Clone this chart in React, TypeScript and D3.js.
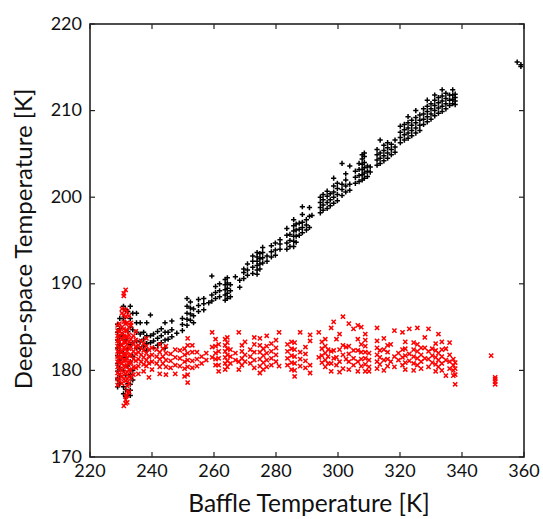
import React from "react";
import * as d3 from "d3";

const xTicks = [220, 240, 260, 280, 300, 320, 340, 360];
const yTicks = [170, 180, 190, 200, 210, 220];

// Deep-space temperature (black "+"), grouped by baffle temperature column
const blackCols: [number, number[]][] = [
  [228.9, [178.1, 179.0, 179.9, 180.8, 181.7, 182.6, 183.5, 184.4, 185.3]],
  [229.6, [178.5, 179.4, 180.3, 181.2, 182.1, 183.0, 183.9, 184.8, 186.0]],
  [230.8, [177.3, 178.1, 180.0, 182.0, 184.0, 186.0, 187.4]],
  [231.5, [177.0, 177.8, 179.4, 181.5, 183.5, 185.5, 187.0]],
  [232.2, [177.2, 178.5, 180.5, 182.5, 184.5, 186.8]],
  [233.0, [177.1, 177.7, 178.4, 179.5, 181.0, 183.0, 185.0, 186.0, 187.4]],
  [233.8, [178.9, 180.0, 181.6, 183.2, 184.7, 186.6]],
  [235.0, [182.6, 183.4, 184.4, 185.5, 186.6]],
  [236.2, [182.5, 183.3, 184.2, 185.5]],
  [237.3, [182.8, 183.6, 184.4]],
  [238.3, [182.3, 183.1, 184.0, 185.5]],
  [239.5, [183.2, 184.0, 186.4]],
  [240.5, [182.6, 183.4, 184.2]],
  [241.8, [182.9, 183.7, 184.5]],
  [243.0, [183.2, 184.0, 184.8]],
  [244.2, [182.6, 183.5, 184.4, 185.5]],
  [245.2, [183.6, 184.4]],
  [246.4, [183.9, 184.7, 185.7]],
  [248.0, [184.3]],
  [249.8, [184.6, 185.3, 186.0]],
  [251.3, [185.2, 185.9, 186.6, 187.4, 188.3]],
  [252.4, [185.8, 186.5, 187.2, 187.9]],
  [253.4, [185.5, 186.3, 187.1]],
  [255.0, [186.8, 187.5, 188.2]],
  [256.7, [187.0, 187.7, 188.3]],
  [258.3, [187.8]],
  [259.3, [188.0, 188.7, 190.9]],
  [260.5, [188.3, 189.0, 189.7]],
  [261.8, [188.5, 189.2, 190.0]],
  [263.6, [188.1, 188.7, 189.3, 189.9, 190.5]],
  [264.3, [188.3, 188.9, 189.5, 190.1, 190.7]],
  [265.3, [188.5, 189.2, 189.9]],
  [266.9, [190.8]],
  [268.3, [189.6, 190.4]],
  [269.6, [190.6, 191.3, 191.7]],
  [270.8, [191.0, 191.6, 192.3]],
  [272.5, [191.2, 191.9, 192.6, 193.2]],
  [273.9, [191.1, 191.6, 192.1, 192.6, 193.1, 193.6]],
  [274.8, [191.7, 192.3, 192.9, 193.5]],
  [275.7, [192.4, 193.0, 193.6, 194.2]],
  [277.1, [192.6, 193.2]],
  [278.5, [193.1, 193.7, 194.4]],
  [279.8, [193.3, 193.9, 194.7]],
  [281.3, [194.0, 194.6, 195.1]],
  [283.5, [194.0, 194.7, 195.6, 196.4]],
  [284.5, [194.3, 195.0, 195.7]],
  [285.7, [194.3, 194.9, 195.5, 196.1, 196.7, 197.4]],
  [286.5, [194.8, 195.5, 196.2, 196.9]],
  [287.5, [195.6, 196.3, 197.0]],
  [288.5, [195.9, 196.5, 197.1, 198.0, 198.9]],
  [289.8, [196.2, 196.8, 197.4]],
  [290.8, [196.5, 197.8, 198.8]],
  [291.6, [197.9]],
  [294.3, [198.2, 198.8, 199.4, 200.0]],
  [295.2, [198.5, 199.1, 199.7, 200.3]],
  [296.5, [198.7, 199.4, 200.1, 200.7]],
  [297.5, [199.0, 199.7, 200.4]],
  [298.6, [199.3, 200.0, 200.6, 201.3, 202.2]],
  [299.8, [199.6, 200.3, 201.0, 201.6]],
  [301.3, [200.2, 200.9, 201.5, 203.9]],
  [302.5, [200.6, 201.3, 202.0, 202.7]],
  [303.8, [200.8, 201.5, 203.6]],
  [305.6, [201.6, 202.3, 203.0]],
  [306.8, [201.8, 202.5, 203.2, 203.9]],
  [307.8, [202.0, 202.6, 203.2, 203.8, 204.4, 204.9]],
  [308.5, [202.2, 202.8, 203.4, 204.0, 204.7, 205.1]],
  [309.5, [202.4, 203.0, 203.6]],
  [310.4, [202.9, 203.5]],
  [312.6, [203.7, 204.3, 204.9, 205.5]],
  [313.6, [203.9, 204.5, 205.1, 206.6]],
  [314.8, [204.2, 204.8, 205.4, 206.0]],
  [316.0, [204.5, 205.1, 205.7, 206.3]],
  [317.2, [204.9, 205.5, 206.1]],
  [318.4, [205.2, 205.8, 206.6]],
  [320.1, [206.3, 206.9, 207.5, 208.2]],
  [321.4, [206.6, 207.2, 207.8, 208.4]],
  [322.6, [206.8, 207.4, 208.0, 208.6, 209.3]],
  [323.8, [207.1, 207.7, 208.3, 208.9]],
  [325.1, [207.4, 208.0, 208.6, 209.2, 210.0]],
  [326.4, [207.7, 208.3, 208.9, 209.5]],
  [327.6, [208.4, 209.0, 209.6, 210.2]],
  [328.8, [208.7, 209.3, 209.9, 210.5, 211.2]],
  [330.0, [209.0, 209.6, 210.2, 210.8]],
  [331.2, [209.4, 210.0, 210.6, 211.2, 211.8]],
  [332.4, [209.7, 210.3, 210.9, 211.5]],
  [333.6, [209.9, 210.5, 211.1, 211.7, 212.4]],
  [334.8, [210.2, 210.8, 211.4, 212.0]],
  [336.0, [210.6, 211.2, 211.8]],
  [337.0, [210.8, 211.3, 211.8, 212.4]],
  [337.8, [210.7, 211.1, 211.5, 211.9]],
  [357.8, [215.6]],
  [359.0, [215.1, 215.3]],
];

// Second series (red "x"), grouped by baffle temperature column
const redCols: [number, number[]][] = [
  [228.9, [178.3, 179.0, 179.7, 180.4, 181.0, 181.6, 182.2, 182.8, 183.4, 184.0, 184.6, 185.2]],
  [229.5, [178.8, 179.5, 180.2, 180.9, 181.5, 182.1, 182.7, 183.3, 183.9, 184.5, 185.4]],
  [230.3, [178.5, 179.3, 180.0, 180.8, 181.5, 182.2, 182.9, 183.6, 184.3, 185.0, 186.6, 187.1]],
  [230.9, [175.9, 179.0, 179.8, 180.5, 181.2, 181.9, 182.6, 183.3, 184.0, 184.8, 185.6, 186.4, 188.6, 188.9]],
  [231.5, [176.2, 176.6, 177.0, 178.8, 179.6, 180.4, 181.1, 181.8, 182.5, 183.2, 183.9, 184.6, 185.4, 186.2, 187.0, 189.3]],
  [232.0, [176.3, 177.1, 177.6, 178.2, 179.0, 179.8, 180.6, 181.4, 182.2, 183.0, 183.8, 184.6, 185.5, 186.8]],
  [232.6, [177.5, 178.5, 179.3, 180.1, 180.9, 181.7, 182.5, 183.3, 184.1, 185.0, 186.3]],
  [233.2, [179.1, 180.0, 180.9, 181.8, 182.7, 183.6, 185.2, 185.5]],
  [234.0, [179.5, 180.4, 181.3, 182.2, 183.1, 184.0]],
  [234.8, [180.3, 181.1, 181.9, 182.7, 183.5, 184.5]],
  [235.6, [179.6, 180.5, 181.3, 182.1, 182.9]],
  [236.5, [181.0, 181.8, 182.6, 183.4]],
  [237.3, [179.9, 180.7, 181.5, 182.3, 183.1]],
  [238.2, [180.5, 181.2, 182.0, 182.8, 183.7]],
  [239.0, [179.2, 180.8, 181.6, 182.4]],
  [240.0, [180.1, 181.0, 181.8, 182.6]],
  [241.5, [180.8, 181.6, 182.4]],
  [242.5, [179.6, 180.4, 181.3, 182.1, 183.0]],
  [243.5, [180.8, 181.6, 182.5]],
  [244.5, [179.5, 180.4, 181.2, 182.0, 182.8]],
  [246.0, [180.3, 181.1, 181.9]],
  [247.5, [179.6, 180.6, 181.5, 182.4]],
  [249.0, [180.5, 181.4, 182.3]],
  [250.5, [179.3, 180.2, 181.0, 181.8, 182.5]],
  [251.5, [178.6, 179.5, 180.4, 181.2, 182.0, 182.9, 183.7]],
  [253.0, [180.3, 181.1, 182.1, 182.9]],
  [254.5, [180.5, 181.3, 182.1]],
  [256.0, [180.8, 181.6]],
  [257.5, [181.2, 182.0]],
  [259.4, [184.4, 182.7, 181.5]],
  [260.5, [180.6, 181.3, 182.0, 182.8, 183.6]],
  [261.5, [179.9, 180.6, 181.4, 182.2, 183.0]],
  [263.6, [180.1, 180.8, 181.5, 182.2, 182.9, 183.6]],
  [264.3, [180.4, 181.1, 181.8, 182.5, 183.2, 183.8]],
  [265.3, [180.8, 181.6, 182.4]],
  [266.9, [181.2, 182.0]],
  [268.0, [180.1, 184.4, 181.0]],
  [269.0, [180.6, 181.4, 182.2, 182.9]],
  [270.0, [181.0, 181.8, 183.3]],
  [271.7, [180.8, 181.6, 182.4]],
  [273.0, [180.3, 181.2, 182.1, 183.0, 183.8]],
  [274.8, [179.7, 180.5, 181.3, 182.1, 182.9, 183.7]],
  [275.9, [180.1, 180.9, 181.7, 182.5]],
  [277.0, [180.4, 181.2, 182.0, 182.8, 184.0]],
  [278.5, [180.6, 181.4, 182.2, 183.1]],
  [280.0, [181.0, 181.8, 182.6, 183.5]],
  [281.0, [184.4, 180.5]],
  [283.7, [180.6, 181.4, 182.2, 183.0]],
  [285.0, [180.1, 180.9, 181.7, 182.5, 183.3]],
  [286.0, [179.3, 180.0, 180.8, 181.6, 182.4, 183.2]],
  [287.8, [180.5, 181.3, 182.1, 184.4]],
  [289.5, [180.3, 181.1, 181.9, 182.7]],
  [291.0, [179.7, 180.6, 183.4, 184.1]],
  [293.8, [184.4, 181.5]],
  [294.8, [180.9, 181.7, 182.5, 183.3]],
  [295.9, [180.4, 181.2, 182.0, 182.8, 183.6]],
  [296.8, [180.8, 181.6, 182.4]],
  [297.8, [179.9, 180.8, 182.2, 184.9]],
  [298.6, [185.6, 181.4, 182.3]],
  [299.5, [180.6, 181.5, 183.6]],
  [300.5, [179.8, 181.0, 182.4, 184.2]],
  [301.6, [186.2, 180.2, 181.8, 182.9]],
  [302.6, [181.3, 182.7]],
  [303.5, [180.1, 181.0, 181.9, 182.8, 185.4]],
  [305.0, [180.6, 181.4, 182.3, 184.8]],
  [306.4, [179.9, 181.0, 182.3, 183.6, 185.2]],
  [307.5, [180.5, 181.3, 182.1, 183.0, 185.0]],
  [308.8, [179.9, 180.7, 181.4, 182.1, 182.8, 183.5, 184.2]],
  [310.0, [180.4, 181.2, 182.0, 179.9]],
  [312.6, [180.2, 181.0, 181.8, 182.6, 183.4, 184.9]],
  [313.5, [180.7, 181.5, 182.3]],
  [314.8, [180.0, 181.2, 182.4, 183.7]],
  [316.0, [180.5, 181.3, 182.1, 182.9]],
  [317.0, [181.0, 183.0]],
  [318.2, [180.4, 181.6, 184.6]],
  [319.5, [181.2, 182.0]],
  [320.8, [180.6, 181.5, 182.4, 184.4]],
  [321.7, [180.1, 180.9, 181.7, 182.5, 183.3]],
  [323.0, [181.1, 181.9, 184.8]],
  [324.4, [180.0, 180.8, 181.6, 182.4, 183.2]],
  [325.6, [180.6, 181.4, 182.2, 183.0, 184.9]],
  [326.8, [180.2, 181.0, 181.8, 182.6]],
  [328.0, [181.4, 182.6, 183.8]],
  [329.2, [180.4, 181.3, 182.2, 184.8]],
  [330.4, [180.9, 181.7, 182.5]],
  [331.5, [179.9, 180.7, 181.5, 182.3, 183.1]],
  [332.4, [180.4, 181.2, 182.0, 184.2]],
  [333.5, [180.0, 180.8, 181.6, 182.4, 183.3]],
  [334.8, [179.4, 181.2, 182.5]],
  [336.0, [180.2, 181.0, 181.8, 183.2]],
  [337.2, [179.4, 180.0, 180.6, 181.3]],
  [337.8, [178.4, 179.5, 180.2, 180.9]],
  [349.4, [181.7]],
  [350.7, [178.4, 178.7, 179.0, 179.2]],
];

const W = 543;
const H = 519;
const left = 90;
const right = 524;
const top = 24;
const bottom = 457;
const FONT = "Lato, 'Open Sans', sans-serif";

function flatten(cols: [number, number[]][]) {
  const out: { x: number; y: number }[] = [];
  cols.forEach(([x, ys]) => ys.forEach((y) => out.push({ x, y })));
  return out;
}

export default function App() {
  const x = d3.scaleLinear().domain([220, 360]).range([left, right]);
  const y = d3.scaleLinear().domain([170, 220]).range([bottom, top]);
  const black = flatten(blackCols);
  const red = flatten(redCols);
  const tl = 5;
  const pa = 2.6;
  const xa = 2.1;

  return (
    <svg
      width={W}
      height={H}
      style={{ position: "absolute", left: 0, top: 0, background: "#fff" }}
      fontFamily={FONT}
    >
      <rect x={0} y={0} width={W} height={H} fill="#fff" />
      {black.map((d, i) => {
        const cx = x(d.x);
        const cy = y(d.y);
        return (
          <path
            key={"b" + i}
            d={`M${cx - pa},${cy}H${cx + pa}M${cx},${cy - pa}V${cy + pa}`}
            stroke="#000"
            strokeWidth={1.5}
            fill="none"
          />
        );
      })}
      {red.map((d, i) => {
        const cx = x(d.x);
        const cy = y(d.y);
        return (
          <path
            key={"r" + i}
            d={`M${cx - xa},${cy - xa}L${cx + xa},${cy + xa}M${cx - xa},${cy + xa}L${cx + xa},${cy - xa}`}
            stroke="#ff0000"
            strokeWidth={1.5}
            fill="none"
          />
        );
      })}
      <rect
        x={left}
        y={top}
        width={right - left}
        height={bottom - top}
        fill="none"
        stroke="#222"
        strokeWidth={1.6}
      />
      {xTicks.map((t) => (
        <g key={"xt" + t}>
          <line x1={x(t)} x2={x(t)} y1={bottom} y2={bottom - tl} stroke="#222" strokeWidth={1.2} />
          <line x1={x(t)} x2={x(t)} y1={top} y2={top + tl} stroke="#222" strokeWidth={1.2} />
          <text x={x(t)} y={477} textAnchor="middle" fontSize={18} fill="#111">
            {t}
          </text>
        </g>
      ))}
      {yTicks.map((t) => (
        <g key={"yt" + t}>
          <line x1={left} x2={left + tl} y1={y(t)} y2={y(t)} stroke="#222" strokeWidth={1.2} />
          <line x1={right} x2={right - tl} y1={y(t)} y2={y(t)} stroke="#222" strokeWidth={1.2} />
          <text x={82} y={y(t) + 5.5} textAnchor="end" fontSize={18} fill="#111">
            {t}
          </text>
        </g>
      ))}
      <text x={309} y={512} textAnchor="middle" fontSize={24.5} fill="#111">
        Baffle Temperature [K]
      </text>
      <text
        transform={`translate(32,239) rotate(-90)`}
        textAnchor="middle"
        fontSize={24}
        fill="#111"
      >
        Deep-space Temperature [K]
      </text>
    </svg>
  );
}
